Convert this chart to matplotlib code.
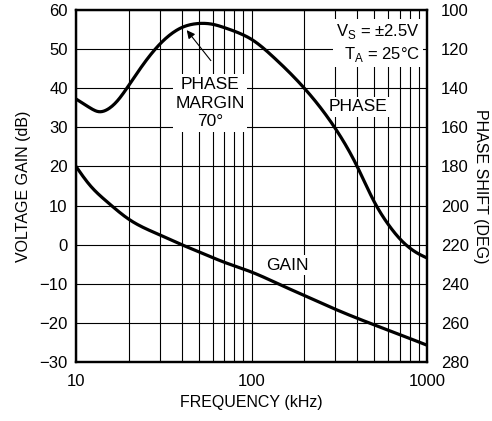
import matplotlib
matplotlib.use("Agg")
import matplotlib.pyplot as plt
import numpy as np

plt.rcParams['font.family'] = ['Liberation Sans Narrow', 'Liberation Sans', 'DejaVu Sans']
plt.rcParams['mathtext.fontset'] = 'custom'
plt.rcParams['mathtext.rm'] = 'Liberation Sans'

# gain curve (dB) vs frequency (kHz)
gain_freq = [10, 12, 15, 20, 30, 40, 50, 70, 100, 150, 200, 300, 500, 700, 1000]
gain_db = [20, 15.2, 11, 6.5, 2.5, 0, -1.8, -4.5, -7, -10.5, -13, -16.5, -20.5, -23, -25.7]

# phase curve (deg) vs frequency (kHz)
phase_freq = [10, 12, 13.5, 15, 17, 20, 25, 30, 40, 50, 60, 70, 86, 100, 133,
              200, 300, 400, 500, 600, 700, 800, 900, 1000]
phase_deg = [145.5, 150, 152, 151, 147, 138.5, 126, 117.5, 109, 106.9, 107.3, 109, 112, 115, 124,
             140, 160.5, 180, 198, 209.5, 217, 221.8, 224.8, 226.8]

gain_ticks = [-30, -20, -10, 0, 10, 20, 30, 40, 50, 60]
phase_ticks = [100, 120, 140, 160, 180, 200, 220, 240, 260, 280]
freq_ticks = [10, 100, 1000]


def spline(xs, ys, n=400):
    # natural cubic spline in log-frequency
    x = np.log10(np.asarray(xs, float))
    y = np.asarray(ys, float)
    m = len(x)
    h = np.diff(x)
    A = np.zeros((m, m))
    b = np.zeros(m)
    A[0, 0] = A[-1, -1] = 1
    for i in range(1, m - 1):
        A[i, i - 1] = h[i - 1]
        A[i, i] = 2 * (h[i - 1] + h[i])
        A[i, i + 1] = h[i]
        b[i] = 6 * ((y[i + 1] - y[i]) / h[i] - (y[i] - y[i - 1]) / h[i - 1])
    M = np.linalg.solve(A, b)
    g = np.linspace(x[0], x[-1], n)
    idx = np.clip(np.searchsorted(x, g) - 1, 0, m - 2)
    x0, x1 = x[idx], x[idx + 1]
    hh = x1 - x0
    t0, t1 = x1 - g, g - x0
    out = (M[idx] * t0 ** 3 + M[idx + 1] * t1 ** 3) / (6 * hh) \
        + (y[idx] / hh - M[idx] * hh / 6) * t0 \
        + (y[idx + 1] / hh - M[idx + 1] * hh / 6) * t1
    return 10 ** g, out


fig = plt.figure(figsize=(4.92, 4.21), dpi=100)
ax = fig.add_axes([76 / 492, 1 - 362 / 421, 351 / 492, 352 / 421])
ax.set_xscale('log')
ax.set_xlim(10, 1000)
ax.set_ylim(-30, 60)
ax.set_yticks(gain_ticks)
ax.set_xticks(freq_ticks)
ax.set_xticklabels([str(f) for f in freq_ticks])
ax.grid(True, which='both', color='black', linewidth=0.8)
ax.tick_params(which='both', length=0, labelsize=12, pad=6)
ax.tick_params(axis='x', pad=9)
for s in ax.spines.values():
    s.set_linewidth(1.6)
ax.set_xlabel('FREQUENCY (kHz)', fontsize=11.5, labelpad=4)
ax.set_ylabel('VOLTAGE GAIN (dB)', fontsize=11.5, labelpad=6)

gx, gy = spline(gain_freq, gain_db)
ax.plot(gx, gy, color='black', linewidth=2.3, zorder=4)

ax2 = ax.twinx()
ax2.set_ylim(280, 100)
ax2.set_yticks(phase_ticks)
ax2.tick_params(length=0, labelsize=12, pad=10)
ax2.set_ylabel('PHASE SHIFT (DEG)', fontsize=11.5, rotation=-90, labelpad=14)
px, py = spline(phase_freq, phase_deg)
ax2.plot(px, py, color='black', linewidth=2.3, zorder=4)
for s in ax2.spines.values():
    s.set_linewidth(1.6)

box = dict(facecolor='white', edgecolor='none', pad=2)
ax.text(58, 36.2, 'PHASE\nMARGIN\n70°', ha='center', va='center', fontsize=12.5,
        linespacing=1.3, bbox=box, zorder=3)
ax.annotate('', xy=(41.8, 55.4), xytext=(60, 46.5),
            arrowprops=dict(arrowstyle='-|>', color='black', lw=0.8, mutation_scale=12), zorder=5)
ax.text(404, 35.2, 'PHASE', ha='center', va='center', fontsize=12.5, bbox=box, zorder=3)
ax.text(161, -5.2, 'GAIN', ha='center', va='center', fontsize=12.5, bbox=box, zorder=3)
ax.text(0.98, 0.965, 'V$_\\mathregular{S}$ = ±2.5V\nT$_\\mathregular{A}$ = 25°C', transform=ax.transAxes,
        ha='right', va='top', fontsize=12, linespacing=1.25,
        bbox=dict(facecolor='white', edgecolor='none', pad=2), zorder=3)

fig.savefig('out.png', dpi=100)
